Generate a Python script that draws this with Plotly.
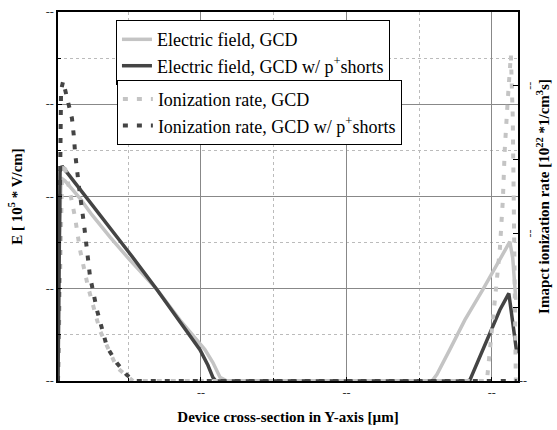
import plotly.graph_objects as go

# Electric field, GCD (left axis)
e_gcd_x = [0.017, 0.024, 0.038, 0.065, 0.168, 0.251, 0.375, 0.512, 0.698, 0.856, 1.027, 1.082, 1.131, 1.179,
           2.588, 2.622, 2.711, 2.814, 2.938, 3.021, 3.124, 3.144, 3.165]
e_gcd_y = [0, 1.42, 2.20, 2.17, 1.98, 1.80, 1.56, 1.31, 0.99, 0.66, 0.34, 0.20, 0.04, 0,
           0, 0.07, 0.34, 0.66, 0.99, 1.22, 1.51, 1.33, 0.88]

# Electric field, GCD w/ p+ shorts (left axis)
e_p_x = [0.017, 0.024, 0.031, 0.045, 0.134, 0.237, 0.375, 0.512, 0.698, 0.856, 0.993, 1.048, 1.082, 1.103,
         2.828, 2.849, 2.918, 2.986, 3.055, 3.117, 3.144, 3.172]
e_p_y = [0, 1.42, 2.27, 2.33, 2.15, 1.93, 1.66, 1.38, 0.99, 0.65, 0.34, 0.17, 0.04, 0,
         0, 0.01, 0.26, 0.52, 0.77, 0.95, 0.66, 0.30]

# Ionization rate, GCD (right axis)
i_gcd_x = [0.017, 0.031, 0.045, 0.058, 0.100, 0.134, 0.168, 0.223, 0.306, 0.423, 0.533,
           2.966, 3.021, 3.055, 3.076, 3.089, 3.110, 3.131, 3.144, 3.151, 3.158, 3.165]
i_gcd_y = [0, 0.89, 1.40, 1.48, 1.29, 1.11, 0.89, 0.64, 0.34, 0.09, 0,
           0, 0.55, 0.89, 1.23, 1.57, 1.91, 2.21, 1.79, 1.23, 0.55, 0]

# Ionization rate, GCD w/ p+ shorts (right axis)
i_p_x = [0.017, 0.024, 0.031, 0.038, 0.052, 0.079, 0.113, 0.127, 0.134, 0.162, 0.182, 0.196, 0.237,
         0.285, 0.354, 0.423, 0.491, 0.546, 3.172]
i_p_y = [0, 0.89, 1.77, 1.97, 2.03, 1.91, 1.78, 1.65, 1.55, 1.31, 1.18, 1.06, 0.71,
         0.48, 0.23, 0.12, 0.04, 0, 0]

x_ticks = [1, 2, 3]
x_minor = [0.5, 1.5, 2.5]
x_ticktext = ["--", "--", "--"]
yl_ticks = [0, 1, 2, 3, 4]
yl_minor = [0.5, 1.5, 2.5, 3.5]
yl_ticktext = ["--"] * 5
yr_ticks = [0]
yr_ticktext = ["--"]
yr_minor = [0.5, 1, 1.5, 2]
yr_rot_ticks = [1, 2]

LIGHT = "#c4c4c4"
DARK = "#444444"
SERIF = "Times New Roman"

fig = go.Figure()
fig.add_trace(go.Scatter(x=e_gcd_x, y=e_gcd_y, mode="lines", name="Electric field, GCD",
                         line=dict(color=LIGHT, width=3.5), legend="legend"))
fig.add_trace(go.Scatter(x=e_p_x, y=e_p_y, mode="lines",
                         name="Electric field, GCD w/ p<sup>+</sup>shorts",
                         line=dict(color=DARK, width=3.5), legend="legend"))
fig.add_trace(go.Scatter(x=i_gcd_x, y=i_gcd_y, mode="lines", name="Ionization rate, GCD",
                         line=dict(color=LIGHT, width=4, dash="5px,9px"), yaxis="y2", legend="legend2"))
fig.add_trace(go.Scatter(x=i_p_x, y=i_p_y, mode="lines",
                         name="Ionization rate, GCD w/ p<sup>+</sup>shorts",
                         line=dict(color=DARK, width=4, dash="5px,9px"), yaxis="y2", legend="legend2"))

for v in yr_rot_ticks:
    fig.add_annotation(x=1, xref="paper", xanchor="left", xshift=4, y=v, yref="y2",
                       text="--", textangle=90, showarrow=False,
                       font=dict(family=SERIF, size=12, color="#333"))

tickfont = dict(family=SERIF, size=12, color="#333")
titlefont = dict(family=SERIF, size=15, color="black", weight="bold")
legfont = dict(family=SERIF, size=18, color="black")

fig.update_layout(
    width=557, height=430,
    margin=dict(l=58, r=39, t=12, b=49),
    paper_bgcolor="white", plot_bgcolor="white",
    font=dict(family=SERIF),
    xaxis=dict(range=[0.017, 3.18], tickvals=x_ticks, ticktext=x_ticktext, tickfont=tickfont,
               automargin=False,
               showline=True, linecolor="black", linewidth=1.5, mirror=True,
               ticks="inside", ticklen=4, tickcolor="black",
               showgrid=True, gridcolor="#888888", gridwidth=1, zeroline=False,
               minor=dict(tickvals=x_minor, showgrid=True, gridcolor="#bbbbbb", griddash="dot",
                          ticks="inside", ticklen=3, tickcolor="black"),
               title=dict(text="Device cross-section in Y-axis [µm]", font=titlefont, standoff=12)),
    yaxis=dict(range=[0, 4], tickvals=yl_ticks, ticktext=yl_ticktext, tickfont=tickfont,
               automargin=False,
               showline=True, linecolor="black", linewidth=1.5, mirror=True,
               ticks="inside", ticklen=4, tickcolor="black",
               showgrid=True, gridcolor="#888888", gridwidth=1, zeroline=False,
               minor=dict(tickvals=yl_minor, showgrid=True, gridcolor="#bbbbbb", griddash="dot",
                          ticks="inside", ticklen=3, tickcolor="black"),
               title=dict(text="E [ 10<sup>5</sup> * V/cm]", font=titlefont, standoff=20)),
    yaxis2=dict(range=[0, 2.5], overlaying="y", side="right", tickvals=yr_ticks, ticktext=yr_ticktext,
                automargin=False,
                tickfont=tickfont, showgrid=False, zeroline=False, showline=False,
                ticks="inside", ticklen=5, tickcolor="black",
                minor=dict(tickvals=yr_minor, ticks="inside", ticklen=5, tickcolor="black"),
                title=dict(text="Imapct ionization rate [10<sup>22</sup> *1/cm<sup>3</sup>s]",
                           font=titlefont, standoff=12)),
    legend=dict(x=0.126, y=0.978, xanchor="left", yanchor="top", bgcolor="white",
                bordercolor="black", borderwidth=1, font=legfont, tracegroupgap=0),
    legend2=dict(x=0.128, y=0.816, xanchor="left", yanchor="top", bgcolor="white",
                 bordercolor="black", borderwidth=1, font=legfont, tracegroupgap=0),
    showlegend=True,
)

fig.write_html("out.html")
